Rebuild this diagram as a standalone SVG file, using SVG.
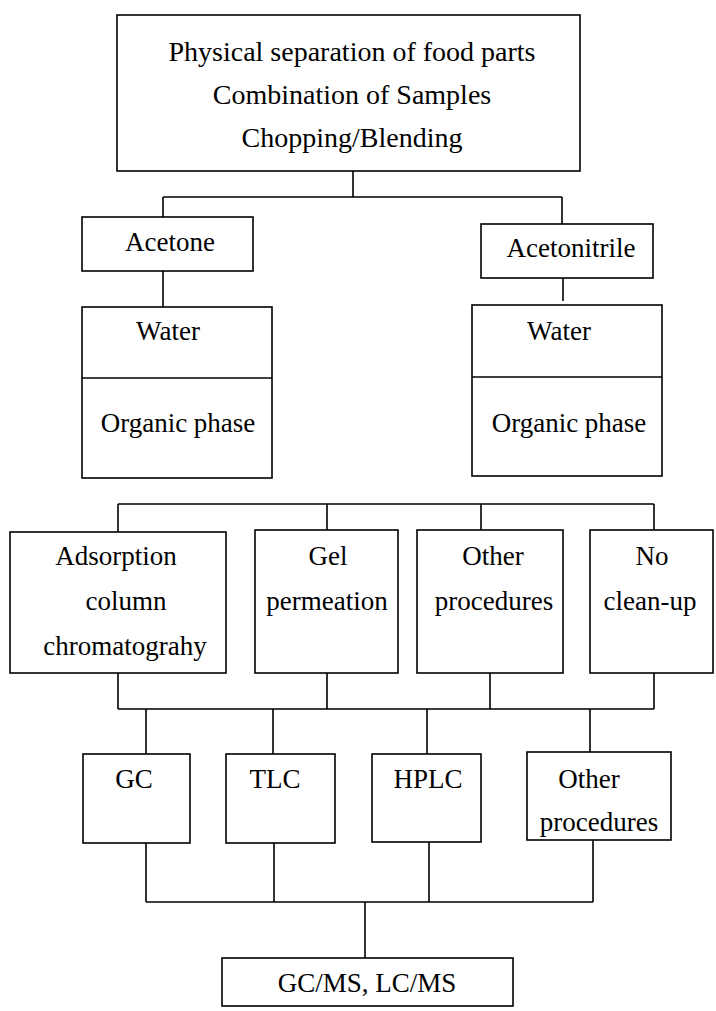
<svg xmlns="http://www.w3.org/2000/svg" width="716" height="1011" viewBox="0 0 716 1011">
<style>
.box{fill:#fff;stroke:#000;stroke-width:1.6}
.ln{fill:none;stroke:#000;stroke-width:1.6}
text{font-family:"Liberation Serif","Times New Roman",serif;font-size:27px;fill:#000;text-anchor:middle}
.big{font-size:28px}
</style>
<rect width="716" height="1011" fill="#fff"/>
<g id="connectors">
<path class="ln" d="M353 171V197M163 197H562M163 197V217M562 197V224"/>
<path class="ln" d="M163 271V307M563 278V301"/>
<path class="ln" d="M118 504H654M118 504V532M327 504V530M481 504V530M654 504V530"/>
<path class="ln" d="M118 673V709M327 673V709M490 673V709M654 673V709M118 709H654"/>
<path class="ln" d="M146 709V754M273 709V754M427 709V754M590 709V752"/>
<path class="ln" d="M146 843V902M274 843V902M429 842V902M593 840V902M146 902H593M365 902V958"/>
</g>
<g id="n-prep">
<rect class="box" x="117" y="15" width="463" height="156"/>
<text class="big" x="352" y="61">Physical separation of food parts</text>
<text class="big" x="352" y="104">Combination of Samples</text>
<text class="big" x="352" y="147">Chopping/Blending</text>
</g>
<g id="n-acetone">
<rect class="box" x="82" y="217" width="171" height="54"/>
<text x="170" y="251">Acetone</text>
</g>
<g id="n-acetonitrile">
<rect class="box" x="481" y="224" width="172" height="54"/>
<text x="571" y="257">Acetonitrile</text>
</g>
<g id="n-phase-left">
<rect class="box" x="82" y="307" width="190" height="171"/>
<path class="ln" d="M82 378H272"/>
<text x="168" y="340">Water</text>
<text x="178" y="432">Organic phase</text>
</g>
<g id="n-phase-right">
<rect class="box" x="472" y="305" width="190" height="171"/>
<path class="ln" d="M472 377H662"/>
<text x="559" y="340">Water</text>
<text x="569" y="432">Organic phase</text>
</g>
<g id="n-adsorption">
<rect class="box" x="10" y="532" width="216" height="141"/>
<text x="116" y="565">Adsorption</text>
<text x="126" y="610">column</text>
<text x="125" y="655">chromatograhy</text>
</g>
<g id="n-gel">
<rect class="box" x="255" y="530" width="143" height="143"/>
<text x="328" y="565">Gel</text>
<text x="327" y="610">permeation</text>
</g>
<g id="n-other1">
<rect class="box" x="417" y="530" width="146" height="143"/>
<text x="493" y="565">Other</text>
<text x="494" y="610">procedures</text>
</g>
<g id="n-nocleanup">
<rect class="box" x="590" y="530" width="123" height="143"/>
<text x="652" y="565">No</text>
<text x="650" y="610">clean-up</text>
</g>
<g id="n-gc">
<rect class="box" x="83" y="754" width="107" height="89"/>
<text x="134" y="788">GC</text>
</g>
<g id="n-tlc">
<rect class="box" x="226" y="754" width="109" height="89"/>
<text x="275" y="788">TLC</text>
</g>
<g id="n-hplc">
<rect class="box" x="372" y="754" width="109" height="88"/>
<text x="428" y="788">HPLC</text>
</g>
<g id="n-other2">
<rect class="box" x="527" y="752" width="144" height="88"/>
<text x="589" y="788">Other</text>
<text x="599" y="831">procedures</text>
</g>
<g id="n-ms">
<rect class="box" x="222" y="958" width="291" height="48"/>
<text x="367" y="992">GC/MS, LC/MS</text>
</g>
</svg>
